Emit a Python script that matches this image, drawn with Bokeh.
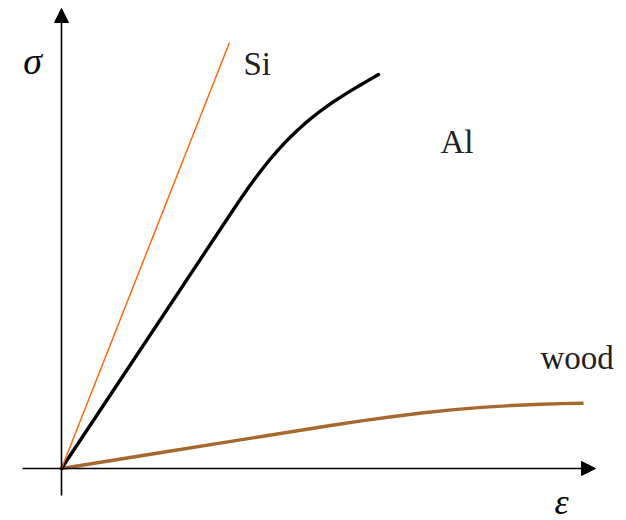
from bokeh.plotting import figure
from bokeh.models import Range1d, Arrow, NormalHead
from bokeh.core.properties import value
from bokeh.embed import file_html
from bokeh.resources import INLINE

# Schematic stress-strain curves (arbitrary units)
si_strain = [0.0, 1.68]
si_stress = [0.0, 4.26]

al_strain = [0.0, 1.66, 1.73, 1.80, 1.87, 1.94, 2.01, 2.08, 2.15, 2.22, 2.29, 2.36,
             2.43, 2.50, 2.57, 2.64, 2.71, 2.78, 2.85, 2.92, 2.99, 3.06, 3.17]
al_stress = [0.0, 2.500, 2.605, 2.709, 2.810, 2.906, 2.998, 3.085, 3.167, 3.244, 3.316,
             3.383, 3.446, 3.505, 3.560, 3.612, 3.661, 3.707, 3.751, 3.794, 3.835,
             3.876, 3.940]

wood_strain = [0.0, 1.0, 2.0, 2.69, 3.0, 3.3, 3.6, 3.9, 4.2, 4.5, 4.8, 5.0, 5.22]
wood_stress = [0.0, 0.16, 0.32, 0.430, 0.476, 0.518, 0.555, 0.586, 0.611, 0.630,
               0.643, 0.649, 0.652]

labels = ["Si", "Al", "wood"]
label_x = [1.82, 3.79, 4.79]
label_y = [4.05, 3.27, 1.11]

p = figure(width=626, height=520,
           x_range=Range1d(-0.61, 5.65), y_range=Range1d(-0.52, 4.68),
           min_border=0, toolbar_location=None, output_backend="svg")
p.axis.visible = False
p.grid.visible = False
p.outline_line_color = None
p.background_fill_color = "white"
p.border_fill_color = "white"

# Axes with arrow heads
p.add_layout(Arrow(end=NormalHead(size=14, fill_color="black", line_color="black", line_width=1),
                   x_start=-0.39, y_start=0.0, x_end=5.34, y_end=0.0,
                   line_color="black", line_width=1.6))
p.add_layout(Arrow(end=NormalHead(size=14, fill_color="black", line_color="black", line_width=1),
                   x_start=0.0, y_start=-0.27, x_end=0.0, y_end=4.60,
                   line_color="black", line_width=1.6))

p.line(wood_strain, wood_stress, line_color="#A5692F", line_width=3.4, line_join="round")
p.line(al_strain, al_stress, line_color="black", line_width=3.4, line_cap="round",
       line_join="round")
p.line(si_strain, si_stress, line_color="#FF6A10", line_width=1.5)

p.text(x=label_x, y=label_y, text=labels, text_font=value("Liberation Serif"),
       text_font_size="33px", text_color="#222222", text_baseline="alphabetic",
       text_align="left")

p.text(x=[-0.29], y=[4.08], text=["σ"], text_font=value("Liberation Serif"),
       text_font_style="italic", text_font_size="38px", text_color="black",
       text_baseline="middle", text_align="center")
p.text(x=[5.0], y=[-0.33], text=["ε"], text_font=value("Liberation Serif"),
       text_font_style="italic", text_font_size="36px", text_color="black",
       text_baseline="middle", text_align="center")

open("out.html", "w").write(file_html(p, INLINE))
